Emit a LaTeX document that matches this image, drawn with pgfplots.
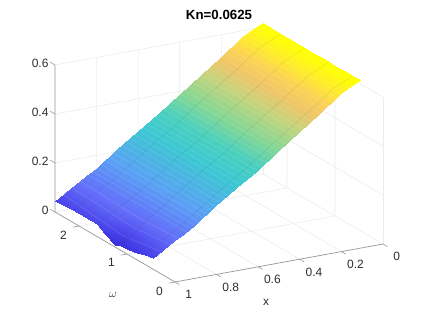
\documentclass[border=0pt]{standalone}
\usepackage{fontspec}
\setmainfont{Liberation Sans}
\usepackage{pgfplots}
\pgfplotsset{compat=1.18}
\definecolor{axgray}{RGB}{150,150,150}
\definecolor{txt}{RGB}{45,45,45}
\definecolor{gridc}{RGB}{236,236,236}
\begin{document}
\begin{tikzpicture}[x=1pt,y=1pt]
\path[use as bounding box] (0,0) rectangle (423,317);
\begin{axis}[
  at={(383pt,73pt)}, anchor=origin, disabledatascaling, clip=false,
  x={(-208pt,-38pt)}, y={(-48pt,28pt)}, z={(0pt,245pt)},
  xmin=0,xmax=1,ymin=0,ymax=2.5,zmin=0,zmax=0.6,
  xtick={0,0.2,0.4,0.6,0.8,1}, ytick={0,1,2}, ztick={0,0.2,0.4,0.6},
  xticklabels={0,0.2,0.4,0.6,0.8,1},yticklabels={0,1,2},zticklabels={0,0.2,0.4,0.6},
  /pgf/number format/assume math mode=true,
  axis line style={draw=none},
  tick style={draw=none},
  tick label style={font=\fontsize{12}{13}\selectfont,text=txt},
  xticklabel style={xshift=9pt,yshift=-4pt},
  yticklabel style={xshift=-9pt,yshift=-1pt},
  zticklabel style={xshift=-3pt},
  colormap={kn}{rgb255(0pt)=(50,40,215); rgb255(50pt)=(75,70,235); rgb255(100pt)=(100,110,250); rgb255(180pt)=(90,160,245); rgb255(280pt)=(60,200,210); rgb255(335pt)=(75,208,190); rgb255(390pt)=(130,215,150); rgb255(455pt)=(195,212,125); rgb255(500pt)=(238,198,105); rgb255(540pt)=(252,210,85); rgb255(580pt)=(255,238,40); rgb255(610pt)=(255,255,0)},
  point meta min=0, point meta max=0.61,
]
% grid on the floor and the two back walls
\draw[gridc,line width=.6pt] (axis cs:.2,0,0)--(axis cs:.2,2.5,0)--(axis cs:.2,2.5,.6);
\draw[gridc,line width=.6pt] (axis cs:.4,0,0)--(axis cs:.4,2.5,0)--(axis cs:.4,2.5,.6);
\draw[gridc,line width=.6pt] (axis cs:.6,0,0)--(axis cs:.6,2.5,0)--(axis cs:.6,2.5,.6);
\draw[gridc,line width=.6pt] (axis cs:.8,0,0)--(axis cs:.8,2.5,0)--(axis cs:.8,2.5,.6);
\draw[gridc,line width=.6pt] (axis cs:1,1,0)--(axis cs:0,1,0)--(axis cs:0,1,.6);
\draw[gridc,line width=.6pt] (axis cs:1,2,0)--(axis cs:0,2,0)--(axis cs:0,2,.6);
\draw[gridc,line width=.6pt] (axis cs:0,0,0)--(axis cs:0,0,.6);
\draw[gridc,line width=.6pt] (axis cs:0,0,0)--(axis cs:0,2.5,0)--(axis cs:1,2.5,0);
\draw[gridc,line width=.6pt] (axis cs:0,2.5,0)--(axis cs:0,2.5,.6);
\draw[gridc,line width=.6pt] (axis cs:0,0,.2)--(axis cs:0,2.5,.2)--(axis cs:1,2.5,.2);
\draw[gridc,line width=.6pt] (axis cs:0,0,.4)--(axis cs:0,2.5,.4)--(axis cs:1,2.5,.4);
\draw[gridc,line width=.6pt] (axis cs:0,0,.6)--(axis cs:0,2.5,.6)--(axis cs:1,2.5,.6);
% axis lines and ticks
\draw[axgray,line width=.7pt] (axis cs:0,0,0)--(axis cs:1,0,0)--(axis cs:1,2.5,0)--(axis cs:1,2.5,.6);
\draw[axgray,line width=.6pt] (axis cs:0,0,0)--(axis cs:0,-.09,0);
\draw[axgray,line width=.6pt] (axis cs:.2,0,0)--(axis cs:.2,-.09,0);
\draw[axgray,line width=.6pt] (axis cs:.4,0,0)--(axis cs:.4,-.09,0);
\draw[axgray,line width=.6pt] (axis cs:.6,0,0)--(axis cs:.6,-.09,0);
\draw[axgray,line width=.6pt] (axis cs:.8,0,0)--(axis cs:.8,-.09,0);
\draw[axgray,line width=.6pt] (axis cs:1,0,0)--(axis cs:1,-.09,0);
\draw[axgray,line width=.6pt] (axis cs:1,0,0)--(axis cs:1.03,0,0);
\draw[axgray,line width=.6pt] (axis cs:1,1,0)--(axis cs:1.03,1,0);
\draw[axgray,line width=.6pt] (axis cs:1,2,0)--(axis cs:1.03,2,0);
\draw[axgray,line width=.6pt] (axis cs:1,2.5,0)--(axis cs:1,2.6,0);
\draw[axgray,line width=.6pt] (axis cs:1,2.5,.2)--(axis cs:1,2.6,.2);
\draw[axgray,line width=.6pt] (axis cs:1,2.5,.4)--(axis cs:1,2.6,.4);
\draw[axgray,line width=.6pt] (axis cs:1,2.5,.6)--(axis cs:1,2.6,.6);
\addplot3[surf,shader=interp,z buffer=none,mesh/ordering=y varies,mesh/rows=10,mesh/cols=15,point meta=z] table[row sep=crcr] {
x y z\\
0 2.5 .615\\0 2.125 .615\\0 1.625 .615\\0 1.45 .615\\0 1.25 .615\\0 1.125 .615\\0 .95 .615\\0 .79 .615\\0 .625 .615\\0 .46 .615\\
.02 2.5 .612\\.02 2.125 .612\\.02 1.625 .612\\.02 1.45 .612\\.02 1.25 .612\\.02 1.125 .612\\.02 .95 .612\\.02 .79 .612\\.02 .625 .612\\.02 .46 .612\\
.05 2.5 .6\\.05 2.125 .6\\.05 1.625 .6\\.05 1.45 .6\\.05 1.25 .6\\.05 1.125 .6\\.05 .95 .6\\.05 .79 .6\\.05 .625 .6\\.05 .46 .6\\
.1 2.5 .575\\.1 2.125 .575\\.1 1.625 .575\\.1 1.45 .575\\.1 1.25 .575\\.1 1.125 .575\\.1 .95 .575\\.1 .79 .575\\.1 .625 .575\\.1 .46 .575\\
.2 2.5 .51\\.2 2.125 .51\\.2 1.625 .51\\.2 1.45 .51\\.2 1.25 .51\\.2 1.125 .51\\.2 .95 .51\\.2 .79 .51\\.2 .625 .51\\.2 .46 .51\\
.3 2.5 .45\\.3 2.125 .45\\.3 1.625 .45\\.3 1.45 .45\\.3 1.25 .45\\.3 1.125 .45\\.3 .95 .45\\.3 .79 .45\\.3 .625 .45\\.3 .46 .45\\
.4 2.5 .39\\.4 2.125 .39\\.4 1.625 .39\\.4 1.45 .39\\.4 1.25 .39\\.4 1.125 .39\\.4 .95 .39\\.4 .79 .39\\.4 .625 .39\\.4 .46 .39\\
.5 2.5 .325\\.5 2.125 .325\\.5 1.625 .325\\.5 1.45 .325\\.5 1.25 .325\\.5 1.125 .325\\.5 .95 .325\\.5 .79 .325\\.5 .625 .325\\.5 .46 .325\\
.6 2.5 .27\\.6 2.125 .27\\.6 1.625 .27\\.6 1.45 .27\\.6 1.25 .27\\.6 1.125 .27\\.6 .95 .27\\.6 .79 .27\\.6 .625 .27\\.6 .46 .27\\
.7 2.5 .21\\.7 2.125 .21\\.7 1.625 .21\\.7 1.45 .21\\.7 1.25 .21\\.7 1.125 .21\\.7 .95 .21\\.7 .79 .21\\.7 .625 .21\\.7 .46 .21\\
.8 2.5 .148\\.8 2.125 .148\\.8 1.625 .148\\.8 1.45 .148\\.8 1.25 .148\\.8 1.125 .148\\.8 .95 .148\\.8 .79 .148\\.8 .625 .148\\.8 .46 .148\\
.85 2.5 .122\\.85 2.125 .122\\.85 1.625 .122\\.85 1.45 .12\\.85 1.25 .118\\.85 1.125 .119\\.85 .95 .119\\.85 .79 .12\\.85 .625 .122\\.85 .46 .122\\
.9 2.5 .098\\.9 2.125 .1\\.9 1.625 .1\\.9 1.45 .093\\.9 1.25 .087\\.9 1.125 .09\\.9 .95 .091\\.9 .79 .093\\.9 .625 .096\\.9 .46 .098\\
.95 2.5 .07\\.95 2.125 .073\\.95 1.625 .073\\.95 1.45 .061\\.95 1.25 .049\\.95 1.125 .054\\.95 .95 .057\\.95 .79 .06\\.95 .625 .067\\.95 .46 .07\\
1 2.5 .045\\1 2.125 .05\\1 1.625 .05\\1 1.45 .03\\1 1.25 .01\\1 1.125 .018\\1 .95 .023\\1 .79 .028\\1 .625 .04\\1 .46 .045\\
};
\addplot3[draw=white,opacity=.12,line width=.7pt,empty line=jump] coordinates {
(.02,2.5,.612)(.02,.46,.612)

(.04,2.5,.604)(.04,.46,.604)

(.06,2.5,.595)(.06,.46,.595)

(.08,2.5,.585)(.08,.46,.585)

(.1,2.5,.575)(.1,.46,.575)

(.12,2.5,.562)(.12,.46,.562)

(.14,2.5,.549)(.14,.46,.549)

(.16,2.5,.536)(.16,.46,.536)

(.18,2.5,.523)(.18,.46,.523)

(.2,2.5,.51)(.2,.46,.51)

(.22,2.5,.498)(.22,.46,.498)

(.24,2.5,.486)(.24,.46,.486)

(.26,2.5,.474)(.26,.46,.474)

(.28,2.5,.462)(.28,.46,.462)

(.3,2.5,.45)(.3,.46,.45)

(.32,2.5,.438)(.32,.46,.438)

(.34,2.5,.426)(.34,.46,.426)

(.36,2.5,.414)(.36,.46,.414)

(.38,2.5,.402)(.38,.46,.402)

(.4,2.5,.39)(.4,.46,.39)

(.42,2.5,.377)(.42,.46,.377)

(.44,2.5,.364)(.44,.46,.364)

(.46,2.5,.351)(.46,.46,.351)

(.48,2.5,.338)(.48,.46,.338)

(.5,2.5,.325)(.5,.46,.325)

(.52,2.5,.314)(.52,.46,.314)

(.54,2.5,.303)(.54,.46,.303)

(.56,2.5,.292)(.56,.46,.292)

(.58,2.5,.281)(.58,.46,.281)

(.6,2.5,.27)(.6,.46,.27)

(.62,2.5,.258)(.62,.46,.258)

(.64,2.5,.246)(.64,.46,.246)

(.66,2.5,.234)(.66,.46,.234)

(.68,2.5,.222)(.68,.46,.222)

(.7,2.5,.21)(.7,.46,.21)

(.72,2.5,.198)(.72,.46,.198)

(.74,2.5,.185)(.74,.46,.185)

(.76,2.5,.173)(.76,.46,.173)

(.78,2.5,.16)(.78,.46,.16)

(.8,2.5,.148)(.8,.46,.148)

(.82,2.5,.138)(.82,.46,.138)

(.84,2.5,.127)(.84,.46,.127)

(.88,2.5,.108)(.88,1.25,.097)(.88,.46,.108)

(.92,2.5,.087)(.92,1.25,.072)(.92,.46,.087)

(.96,2.5,.065)(.96,1.25,.04)(.96,.46,.065)
};
\addplot3[draw=black,opacity=.1,line width=.4pt] coordinates {(0,2.125,.615)(.1,2.125,.575)(.2,2.125,.51)(.3,2.125,.45)(.4,2.125,.39)(.5,2.125,.325)(.6,2.125,.27)(.7,2.125,.21)(.8,2.125,.148)(.9,2.125,.1)(1,2.125,.05)};
\addplot3[draw=black,opacity=.1,line width=.4pt] coordinates {(0,1.625,.615)(.1,1.625,.575)(.2,1.625,.51)(.3,1.625,.45)(.4,1.625,.39)(.5,1.625,.325)(.6,1.625,.27)(.7,1.625,.21)(.8,1.625,.148)(.9,1.625,.1)(1,1.625,.05)};
\addplot3[draw=black,opacity=.1,line width=.4pt] coordinates {(0,1.125,.615)(.1,1.125,.575)(.2,1.125,.51)(.3,1.125,.45)(.4,1.125,.39)(.5,1.125,.325)(.6,1.125,.27)(.7,1.125,.21)(.8,1.125,.148)(.9,1.125,.09)(1,1.125,.018)};
\addplot3[draw=black,opacity=.1,line width=.4pt] coordinates {(0,.625,.615)(.1,.625,.575)(.2,.625,.51)(.3,.625,.45)(.4,.625,.39)(.5,.625,.325)(.6,.625,.27)(.7,.625,.21)(.8,.625,.148)(.9,.625,.096)(1,.625,.04)};
\end{axis}
\node[font=\bfseries\fontsize{13.3}{14}\selectfont,text=black] at (219,302) {Kn=0.0625};
\node[font=\fontsize{12}{13}\selectfont,text=txt] at (266,15) {x};
\node[font=\fontsize{12}{13}\selectfont,text=txt] at (113,22) {$\omega$};
\end{tikzpicture}
\end{document}
